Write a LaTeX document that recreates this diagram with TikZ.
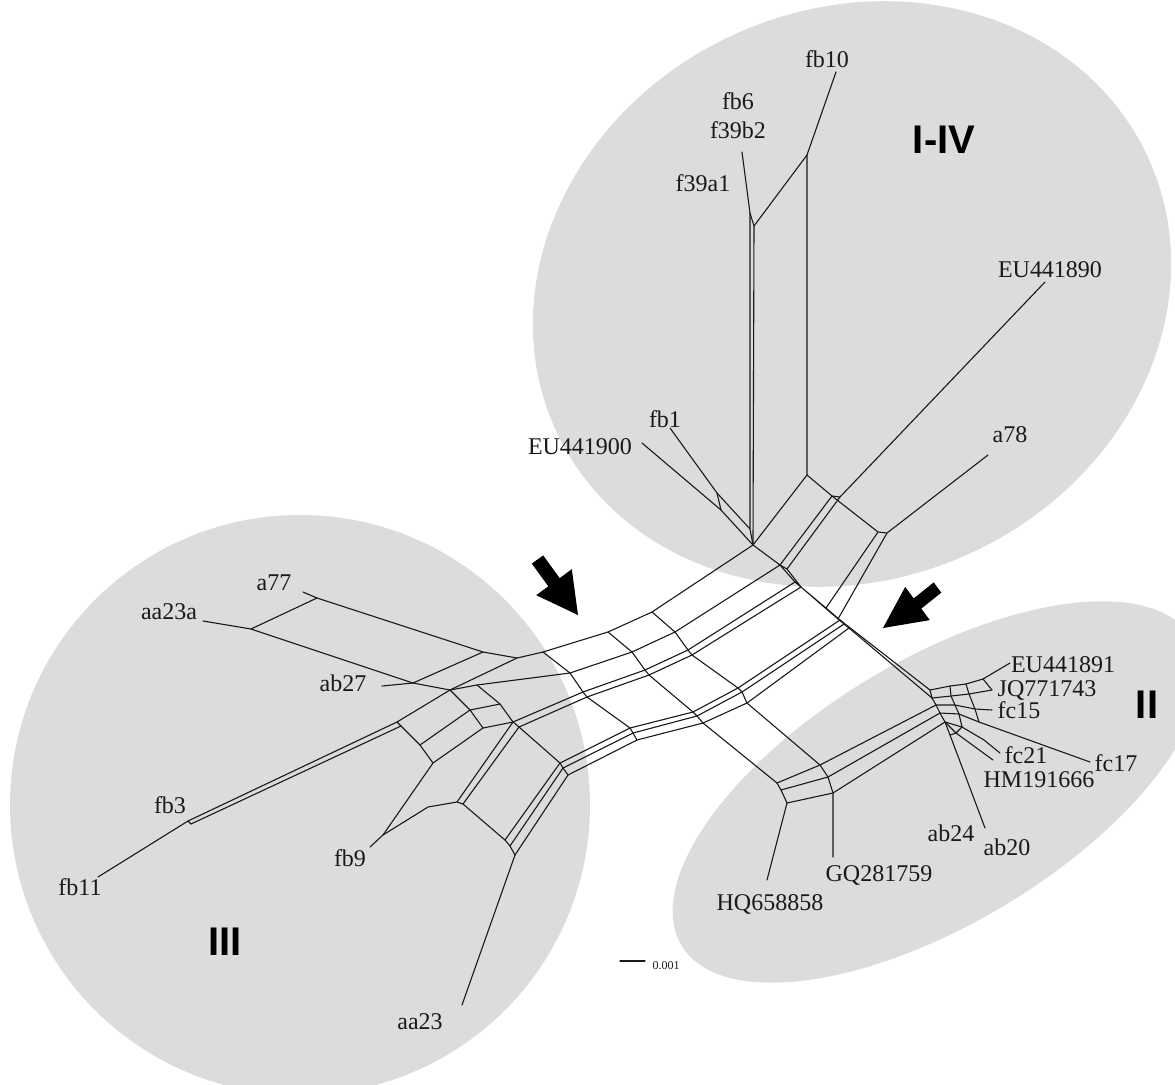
\documentclass[tikz,border=0pt]{standalone}
\usepackage{fontspec}
\setmainfont{Liberation Serif}
\newfontfamily\grpsans{Liberation Sans}
\definecolor{bg}{RGB}{220,220,220}
\definecolor{ink}{RGB}{25,25,25}
\tikzset{
 net/.style={draw=ink, line width=0.55pt, line join=round, line cap=round},
 lab/.style={font=\fontsize{12}{14}\selectfont, inner sep=0pt, text=ink},
 grp/.style={font=\grpsans\bfseries\fontsize{20}{24}\selectfont, inner sep=0pt},
 region/.style={fill=bg},
 arrowshape/.style={fill=black},
}
\begin{document}
\begin{tikzpicture}[x=0.5pt,y=-0.5pt]
\useasboundingbox (0,0) rectangle (1175,1084);
\begin{scope}
\clip (0,0) rectangle (1175,1084);
\fill[region, rotate around={25:(852,294)}] (852,294) ellipse [x radius=326, y radius=285];
\fill[region] (300,805) circle [radius=290];
\fill[region, rotate around={31:(937,792)}] (937,792) ellipse [x radius=298, y radius=132];
\end{scope}
% arrows
\fill[arrowshape] (531.8,563.6)--(543.2,555.4)--(559.7,578.1)--(571.8,569.2)--(578,615)--(536.2,595.2)--(548.3,586.3)--cycle;
\fill[arrowshape] (933.7,582.4)--(941.3,592.6)--(921.3,608.6)--(929.8,620.1)--(883,628)--(905.2,586.9)--(913.7,598.4)--cycle;
% upper cluster
\coordinate (fbten) at (836,72);
\coordinate (ua) at (807,155);
\coordinate (ub) at (754,226);
\coordinate (uc) at (750,213);
\coordinate (ftn) at (742,152);
\coordinate (ud) at (807,475);
\coordinate (H) at (753,545);
\coordinate (ue) at (750,529);
\coordinate (fbone) at (670,428);
\coordinate (uf1) at (717,493);
\coordinate (uf2) at (721,510);
\coordinate (euh) at (642,443);
\coordinate (uh) at (832,496);
\coordinate (ui) at (840,497);
\coordinate (uk) at (878,532);
\coordinate (ug) at (887,533);
\coordinate (aseight) at (988,455);
\coordinate (eueight) at (1045,282);
\coordinate (N) at (780,565);
\coordinate (Nb) at (787,569);
\coordinate (Cz) at (795,582);
\coordinate (Czb) at (801,587);
\coordinate (uke) at (826,608);
\coordinate (uge) at (838,619);
\coordinate (Pa) at (840,620);
\coordinate (Pm) at (844,624);
\coordinate (Pb) at (849,628);
\draw[net] (fbten)--(ua)--(ub)--(H);
\draw[net] (ua)--(ud)--(H);
\draw[net] (ftn)--(uc)--(ub);
\draw[net] (uc)--(ue)--(H);
\draw[net] (fbone)--(uf1)--(ue);
\draw[net] (uf1)--(uf2);
\draw[net] (euh)--(uf2)--(H);
\draw[net] (ud)--(uh)--(uk)--(ug)--(aseight);
\draw[net] (H)--(N)--(uh)--(ui)--(Nb)--(N);
\draw[net] (ui)--(eueight);
\draw[net] (N)--(Cz)--(uke)--(Pa)--(Pm)--(Pb)--(uge)--(Czb)--(Nb);
\draw[net] (uk)--(uke);
\draw[net] (ug)--(uge);
% central band
\coordinate (Aone) at (652,612);
\coordinate (Atwo) at (608,632);
\coordinate (Athree) at (543,652);
\coordinate (Afour) at (517,658);
\coordinate (Bone) at (675,632);
\coordinate (Btwo) at (632,652);
\coordinate (Bthree) at (570,673);
\coordinate (Cone) at (688,650);
\coordinate (Ctwo) at (645,670);
\coordinate (Cthree) at (583,692);
\coordinate (Conep) at (692,655);
\coordinate (Ctwop) at (649,675);
\coordinate (Cthreep) at (587,697);
\coordinate (Lza) at (630,728);
\coordinate (Lzb) at (633,733);
\coordinate (Lzc) at (637,740);
\coordinate (Loa) at (693,712);
\coordinate (Lob) at (697,716);
\coordinate (Loc) at (703,723);
\coordinate (Lta) at (738,688);
\coordinate (Ltb) at (742,692);
\coordinate (Ltc) at (747,703);
% lower-right lines
\coordinate (Qone) at (777,783);
\coordinate (Qtwo) at (781,790);
\coordinate (Qthree) at (787,803);
\coordinate (hqE) at (767,880);
\coordinate (Gone) at (820,765);
\coordinate (Gtwo) at (828,777);
\coordinate (Gthree) at (833,793);
\coordinate (gqE) at (833,857);
% hub II
\coordinate (Hone) at (930,690);
\coordinate (Htwo) at (932,698);
\coordinate (Hthree) at (936,705);
\coordinate (Hfour) at (940,713);
\coordinate (Hfive) at (945,722);
\coordinate (ea1) at (950,686);
\coordinate (ea2) at (966,684);
\coordinate (ea3) at (983,679);
\coordinate (euoneE) at (1010,663);
\coordinate (ja1) at (951,696);
\coordinate (ja2) at (969,694);
\coordinate (jqE) at (992,690);
\coordinate (fa1) at (955,705);
\coordinate (fa2) at (975,709);
\coordinate (fcfifE) at (992,710);
\coordinate (sa1) at (959,714);
\coordinate (sa2) at (979,722);
\coordinate (fcsevE) at (1090,762);
\coordinate (ta1) at (962,727);
\coordinate (ta2) at (984,740);
\coordinate (fctwoE) at (1000,753);
\coordinate (ma1) at (956,733);
\coordinate (hmE) at (993,760);
\coordinate (ba1) at (950,735);
\coordinate (abE) at (985,828);
% III cluster
\coordinate (ass) at (303,592);
\coordinate (Tone) at (317,598);
\coordinate (Ttwo) at (483,652);
\coordinate (aaA) at (203,621);
\coordinate (Tthree) at (251,629);
\coordinate (Tfour) at (413,683);
\coordinate (abts) at (382,686);
\coordinate (Tfive) at (450,690);
\coordinate (Tsix) at (477,685);
\coordinate (Teight) at (470,710);
\coordinate (Tnine) at (500,704);
\coordinate (Televen) at (483,728);
\coordinate (Tten) at (513,722);
\coordinate (Ttenb) at (519,727);
\coordinate (Done) at (397,722);
\coordinate (Doneb) at (401,726);
\coordinate (Eone) at (420,745);
\coordinate (Etwo) at (433,763);
\coordinate (fbthree) at (188,821);
\coordinate (fbthreeb) at (191,824);
\coordinate (fbelE) at (98,877);
\coordinate (fbnP) at (383,835);
\coordinate (fbnE) at (370,847);
\coordinate (Fone) at (428,807);
\coordinate (Ftwo) at (457,802);
\coordinate (Fthree) at (463,804);
\coordinate (Kone) at (560,763);
\coordinate (Ktwo) at (563,768);
\coordinate (Kthree) at (568,775);
\coordinate (Mone) at (505,840);
\coordinate (Mtwo) at (510,846);
\coordinate (Mthree) at (515,855);
\coordinate (aatE) at (462,1005);
% band lines
\draw[net] (H)--(Aone)--(Atwo)--(Athree)--(Afour)--(Tfive);
\draw[net] (N)--(Bone)--(Btwo)--(Bthree)--(Tsix);
\draw[net] (Cz)--(Cone)--(Ctwo)--(Cthree)--(Tten);
\draw[net] (Czb)--(Conep)--(Ctwop)--(Cthreep)--(Ttenb);
\draw[net] (Pa)--(Lta)--(Loa)--(Lza)--(Kone)--(Mone);
\draw[net] (Pm)--(Ltb)--(Lob)--(Lzb)--(Ktwo)--(Mtwo);
\draw[net] (Pb)--(Ltc)--(Loc)--(Lzc)--(Kthree)--(Mthree);
\draw[net] (Athree)--(Bthree)--(Cthree)--(Cthreep)--(Lza)--(Lzb)--(Lzc);
\draw[net] (Atwo)--(Btwo)--(Ctwo)--(Ctwop)--(Loa)--(Lob)--(Loc)--(Qone);
\draw[net] (Aone)--(Bone)--(Cone)--(Conep)--(Lta)--(Ltb)--(Ltc)--(Gone);
% lower right
\draw[net] (Qone)--(Qtwo)--(Qthree)--(hqE);
\draw[net] (Gone)--(Gtwo)--(Gthree)--(gqE);
\draw[net] (Qone)--(Gone)--(Hthree);
\draw[net] (Qtwo)--(Gtwo)--(Hfour);
\draw[net] (Qthree)--(Gthree)--(Hfive);
% hub
\draw[net] (Pa)--(Hone);
\draw[net] (Pb)--(Htwo);
\draw[net] (Hone)--(Htwo)--(Hthree)--(Hfour)--(Hfive);
\draw[net] (Hone)--(ea1)--(ea2)--(ea3)--(euoneE);
\draw[net] (Htwo)--(ja1)--(ja2)--(jqE);
\draw[net] (Hthree)--(fa1)--(fa2)--(fcfifE);
\draw[net] (Hfour)--(sa1)--(sa2)--(fcsevE);
\draw[net] (Hfive)--(ta1)--(ta2)--(fctwoE);
\draw[net] (Hfive)--(ma1)--(hmE);
\draw[net] (Hfive)--(ba1)--(abE);
\draw[net] (ea1)--(ja1)--(fa1)--(sa1)--(ta1);
\draw[net] (ea2)--(ja2)--(fa2)--(sa2);
\draw[net] (ea3)--(jqE);
\draw[net] (ba1)--(ma1)--(ta1);
% III
\draw[net] (ass)--(Tone)--(Ttwo)--(Afour);
\draw[net] (aaA)--(Tthree)--(Tfour)--(Tfive)--(Tsix)--(Tnine)--(Tten)--(Ttenb);
\draw[net] (Tthree)--(Tone);
\draw[net] (Tfour)--(Ttwo);
\draw[net] (abts)--(Tfour);
\draw[net] (Tfive)--(Teight)--(Televen)--(Tten);
\draw[net] (Teight)--(Tnine);
\draw[net] (Tfive)--(Done)--(Doneb)--(Eone)--(Etwo)--(Televen);
\draw[net] (Eone)--(Teight);
\draw[net] (Done)--(fbthree)--(fbelE);
\draw[net] (Doneb)--(fbthreeb)--(fbthree);
\draw[net] (fbnE)--(fbnP)--(Etwo);
\draw[net] (fbnP)--(Fone)--(Ftwo)--(Fthree)--(Ttenb);
\draw[net] (Ftwo)--(Tten);
\draw[net] (Fthree)--(Mone)--(Mtwo)--(Mthree)--(aatE);
\draw[net] (Ttenb)--(Kone)--(Ktwo)--(Kthree);
% labels
\node[lab] (lfbten) at (827,59) {fb10};
\node[lab] (lfbsix) at (738,101) {fb6};
\node[lab] (lfbtwo) at (738,130) {f39b2};
\node[lab] (lfaone) at (703,183) {f39a1};
\node[lab] (leueight) at (1050,270) {EU441890};
\node[lab] (lfbone) at (665,419) {fb1};
\node[lab] (leunine) at (580,447) {EU441900};
\node[lab] (laseight) at (1010,435) {a78};
\node[lab] (lass) at (274,583) {a77};
\node[lab] (laaA) at (169,612) {aa23a};
\node[lab] (labts) at (343,683) {ab27};
\node[lab] (lfbthree) at (170,805) {fb3};
\node[lab] (lfbel) at (80,887) {fb11};
\node[lab] (lfbn) at (350,858) {fb9};
\node[lab] (laat) at (420,1022) {aa23};
\node[lab] (lhq) at (770,904) {HQ658858};
\node[lab] (lgq) at (879,875) {GQ281759};
\node[lab] (labtf) at (951,833) {ab24};
\node[lab] (labtz) at (1007,847) {ab20};
\node[lab] (leuone) at (1063,665) {EU441891};
\node[lab] (ljq) at (1047,690) {JQ771743};
\node[lab] (lfcfif) at (1019,710) {fc15};
\node[lab] (lfctwo) at (1026,755) {fc21};
\node[lab] (lhm) at (1039,780) {HM191666};
\node[lab] (lfcsev) at (1116,763) {fc17};
\node[grp] (gIIV) at (944,140) {I-IV};
\node[grp] (gIII) at (225,942) {III};
\node[grp] (gII) at (1147,705) {II};
\coordinate (sbA) at (620,961);
\coordinate (sbB) at (645,961);
\draw[net] (sbA)--(sbB);
\node[font=\fontsize{6}{7}\selectfont, inner sep=0pt, text=ink] (lscale) at (666,966) {0.001};
\end{tikzpicture}
\end{document}
